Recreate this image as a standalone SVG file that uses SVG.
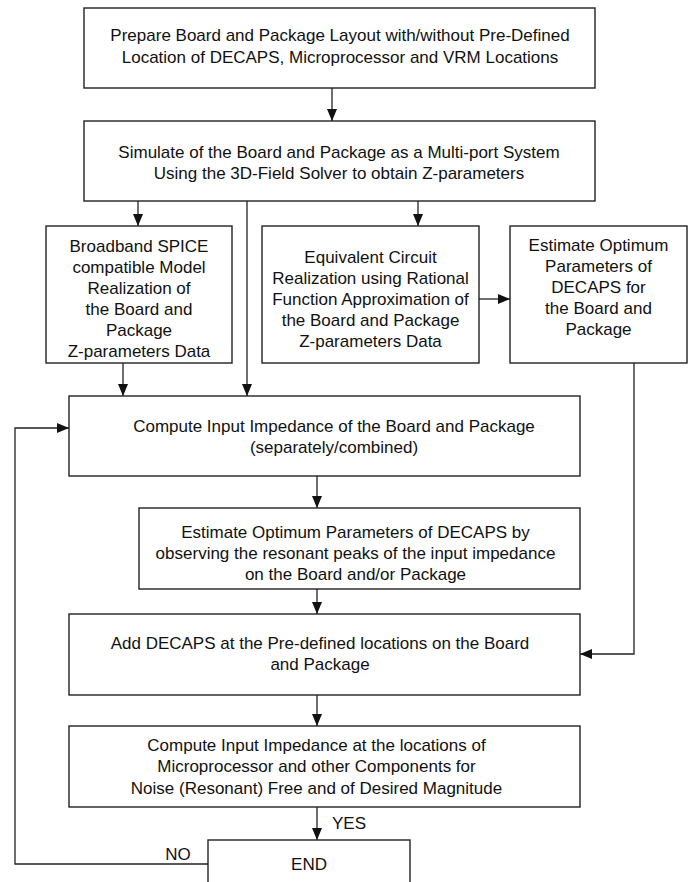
<svg xmlns="http://www.w3.org/2000/svg" width="695" height="882" viewBox="0 0 695 882">
<defs>
<marker id="arr" markerUnits="userSpaceOnUse" markerWidth="13" markerHeight="11" refX="12" refY="5" orient="auto">
<path d="M0,0 L12,5 L0,10 Z" fill="#111"/>
</marker>
<style>
.box{fill:#fff;stroke:#222;stroke-width:1.4}
.t{font-family:"Liberation Sans",Arial,sans-serif;font-size:17px;fill:#111;text-anchor:middle;dominant-baseline:central}
.c{fill:none;stroke:#222;stroke-width:1.3}
</style>
</defs>
<rect width="695" height="882" fill="#fff"/>
<g id="connectors">
<line class="c" x1="332" y1="88" x2="332" y2="121" marker-end="url(#arr)"/>
<line class="c" x1="138" y1="201" x2="138" y2="226" marker-end="url(#arr)"/>
<line class="c" x1="247" y1="201" x2="247" y2="396" marker-end="url(#arr)"/>
<line class="c" x1="418" y1="201" x2="418" y2="226" marker-end="url(#arr)"/>
<line class="c" x1="479" y1="299" x2="510" y2="299" marker-end="url(#arr)"/>
<line class="c" x1="123" y1="363" x2="123" y2="396" marker-end="url(#arr)"/>
<line class="c" x1="317" y1="476" x2="317" y2="508" marker-end="url(#arr)"/>
<line class="c" x1="317" y1="589" x2="317" y2="614" marker-end="url(#arr)"/>
<polyline class="c" points="634,363 634,654 580,654" marker-end="url(#arr)"/>
<line class="c" x1="317" y1="695" x2="317" y2="726" marker-end="url(#arr)"/>
<line class="c" x1="317" y1="807" x2="317" y2="840" marker-end="url(#arr)"/>
<polyline class="c" points="208,864 15,864 15,428 69,428" marker-end="url(#arr)"/>
<text class="t" x="349" y="823">YES</text>
<text class="t" x="178" y="854">NO</text>
</g>
<g id="prepare">
<rect class="box" x="84" y="8" width="511" height="80"/>
<text class="t" x="340" y="35">Prepare Board and Package Layout with/without Pre-Defined</text>
<text class="t" x="340" y="57">Location of DECAPS, Microprocessor and VRM Locations</text>
</g>
<g id="simulate">
<rect class="box" x="84" y="121" width="511" height="80"/>
<text class="t" x="339" y="152">Simulate of the Board and Package as a Multi-port System</text>
<text class="t" x="339" y="173">Using the 3D-Field Solver to obtain Z-parameters</text>
</g>
<g id="broadband">
<rect class="box" x="46" y="226" width="186" height="137"/>
<text class="t" x="139" y="246.5">Broadband SPICE</text>
<text class="t" x="139" y="267.5">compatible Model</text>
<text class="t" x="139" y="288.5">Realization of</text>
<text class="t" x="139" y="309.5">the Board and</text>
<text class="t" x="139" y="330.5">Package</text>
<text class="t" x="139" y="351.5">Z-parameters Data</text>
</g>
<g id="equivalent">
<rect class="box" x="262" y="226" width="217" height="137"/>
<text class="t" x="370.5" y="257">Equivalent Circuit</text>
<text class="t" x="370.5" y="278">Realization using Rational</text>
<text class="t" x="370.5" y="299">Function Approximation of</text>
<text class="t" x="370.5" y="320">the Board and Package</text>
<text class="t" x="370.5" y="341">Z-parameters Data</text>
</g>
<g id="estimate">
<rect class="box" x="510" y="226" width="177" height="137"/>
<text class="t" x="598.5" y="245">Estimate Optimum</text>
<text class="t" x="598.5" y="266">Parameters of</text>
<text class="t" x="598.5" y="287">DECAPS for</text>
<text class="t" x="598.5" y="308">the Board and</text>
<text class="t" x="598.5" y="329">Package</text>
</g>
<g id="compute">
<rect class="box" x="69" y="396" width="511" height="80"/>
<text class="t" x="334" y="426">Compute Input Impedance of the Board and Package</text>
<text class="t" x="334" y="447">(separately/combined)</text>
</g>
<g id="estimate-peaks">
<rect class="box" x="139" y="508" width="441" height="81"/>
<text class="t" x="355.5" y="532">Estimate Optimum Parameters of DECAPS by</text>
<text class="t" x="355.5" y="553">observing the resonant peaks of the input impedance</text>
<text class="t" x="355.5" y="574">on the Board and/or Package</text>
</g>
<g id="add-decaps">
<rect class="box" x="69" y="614" width="511" height="81"/>
<text class="t" x="320" y="643">Add DECAPS at the Pre-defined locations on the Board</text>
<text class="t" x="320" y="664">and Package</text>
</g>
<g id="compute-locations">
<rect class="box" x="69" y="726" width="511" height="81"/>
<text class="t" x="316.5" y="745">Compute Input Impedance at the locations of</text>
<text class="t" x="316.5" y="766">Microprocessor and other Components for</text>
<text class="t" x="316.5" y="788">Noise (Resonant) Free and of Desired Magnitude</text>
</g>
<g id="end">
<rect class="box" x="208" y="840" width="202" height="60"/>
<text class="t" x="309" y="864">END</text>
</g>
</svg>
